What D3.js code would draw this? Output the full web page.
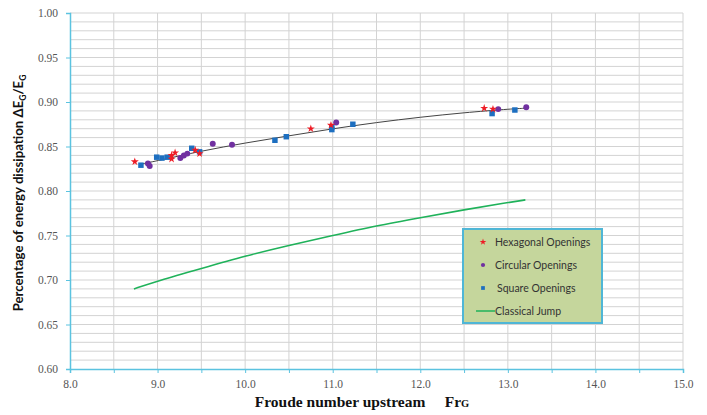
<!DOCTYPE html>
<html>
<head>
<meta charset="utf-8">
<script src="https://cdn.jsdelivr.net/npm/d3@7"></script>
<style>
  body { margin: 0; background: #fff; }
  .grid line { stroke: #d3d3d3; stroke-width: 1; }
  .tick text { font-family: "Liberation Serif", serif; font-size: 11.5px; fill: #555; }
</style>
</head>
<body>
<svg id="chart" width="707" height="415"></svg>
<script>
// Data
var hexX = [8.74, 9.16, 9.16, 9.20, 9.43, 9.48, 10.75, 10.98, 12.73, 12.83];
var hexY = [0.833, 0.840, 0.836, 0.843, 0.846, 0.842, 0.870, 0.874, 0.893, 0.892];

var circX = [8.89, 8.91, 9.26, 9.30, 9.34, 9.63, 9.85, 11.04, 12.89, 13.21];
var circY = [0.831, 0.828, 0.837, 0.840, 0.842, 0.853, 0.852, 0.877, 0.892, 0.894];

var sqX = [8.81, 8.99, 9.05, 9.11, 9.39, 9.48, 10.34, 10.47, 10.99, 10.99, 11.23, 12.82, 13.08];
var sqY = [0.829, 0.838, 0.837, 0.838, 0.848, 0.844, 0.857, 0.861, 0.869, 0.872, 0.875, 0.887, 0.891];

// black trend line through the points
var trendX = [8.8, 9.0, 9.5, 10.0, 10.5, 11.0, 11.5, 12.0, 12.5, 13.0, 13.2];
var trendY = [0.830, 0.834, 0.845, 0.854, 0.862, 0.870, 0.877, 0.883, 0.888, 0.892, 0.893];

// green classical jump curve
var jumpX = [8.73, 9.0, 9.5, 10.0, 10.5, 11.0, 11.5, 12.0, 12.5, 13.0, 13.2];
var jumpY = [0.690, 0.699, 0.713, 0.727, 0.739, 0.750, 0.761, 0.770, 0.779, 0.787, 0.790];

var legendLabels = ["Hexagonal Openings", "Circular Openings", "Square Openings", "Classical Jump"];

var svg = d3.select("#chart");
var padL = 70, padR = 683, padT = 13, padB = 369;

var x = d3.scaleLinear().domain([8, 15]).range([padL, padR]);
var y = d3.scaleLinear().domain([0.6, 1.0]).range([padB, padT]);

// gridlines
var grid = svg.append("g").attr("class", "grid");
grid.selectAll(".hy")
    .data(d3.range(61, 101).map(function(d){ return d / 100; }))
    .enter().append("line")
    .attr("x1", padL).attr("x2", padR)
    .attr("y1", function(d){ return y(d); })
    .attr("y2", function(d){ return y(d); });
grid.selectAll(".vx")
    .data(d3.range(17, 31).map(function(d){ return d / 2; }))
    .enter().append("line")
    .attr("y1", padT).attr("y2", padB)
    .attr("x1", function(d){ return x(d); })
    .attr("x2", function(d){ return x(d); });

// axes
var yAxis = d3.axisLeft(y)
    .tickValues(d3.range(60, 101, 5).map(function(d){ return d / 100; }))
    .tickFormat(d3.format(".2f"))
    .tickSize(4).tickPadding(8);
var gy = svg.append("g").attr("transform", "translate(" + padL + ",0)").call(yAxis);

var xAxis = d3.axisBottom(x)
    .tickValues(d3.range(16, 31).map(function(d){ return d / 2; }))
    .tickFormat(function(d){ return d % 1 === 0 ? d3.format(".1f")(d) : ""; })
    .tickSize(4).tickPadding(7);
var gx = svg.append("g").attr("transform", "translate(0," + padB + ")").call(xAxis);

[gx, gy].forEach(function(g){
    g.select(".domain").attr("stroke", "#5bc3e0").attr("stroke-width", 1.5);
    g.selectAll(".tick line").attr("stroke", "#5bc3e0");
});

// lines
var line = d3.line()
    .x(function(d){ return x(d[0]); })
    .y(function(d){ return y(d[1]); })
    .curve(d3.curveBasis);

svg.append("path")
    .datum(d3.zip(jumpX, jumpY))
    .attr("d", line)
    .attr("fill", "none")
    .attr("stroke", "#1fb25a")
    .attr("stroke-width", 1.6);

svg.append("path")
    .datum(d3.zip(trendX, trendY))
    .attr("d", line)
    .attr("fill", "none")
    .attr("stroke", "#444")
    .attr("stroke-width", 1);

// markers
var star = d3.symbol().type(d3.symbolStar).size(20);
var circ = d3.symbol().type(d3.symbolCircle).size(28);
var sq = d3.symbol().type(d3.symbolSquare).size(30);

svg.append("g").selectAll("path")
    .data(d3.zip(sqX, sqY))
    .enter().append("path")
    .attr("d", sq)
    .attr("fill", "#1d6fc0")
    .attr("transform", function(d){ return "translate(" + x(d[0]) + "," + y(d[1]) + ")"; });

svg.append("g").selectAll("path")
    .data(d3.zip(circX, circY))
    .enter().append("path")
    .attr("d", circ)
    .attr("fill", "#7030a0")
    .attr("transform", function(d){ return "translate(" + x(d[0]) + "," + y(d[1]) + ")"; });

svg.append("g").selectAll("path")
    .data(d3.zip(hexX, hexY))
    .enter().append("path")
    .attr("d", star)
    .attr("fill", "#ee1c25")
    .attr("transform", function(d){ return "translate(" + x(d[0]) + "," + y(d[1]) + ")"; });

// legend
var lg = svg.append("g").attr("transform", "translate(463,229)");
lg.append("rect")
    .attr("width", 139).attr("height", 94)
    .attr("fill", "#c5d69c")
    .attr("stroke", "#4fb6d6")
    .attr("stroke-width", 2);

var legSyms = [
    {s: d3.symbol().type(d3.symbolStar).size(14)(), c: "#ee1c25"},
    {s: d3.symbol().type(d3.symbolCircle).size(14)(), c: "#7030a0"},
    {s: d3.symbol().type(d3.symbolSquare).size(14)(), c: "#1d6fc0"}
];
legendLabels.forEach(function(lab, i){
    var yy = 13 + i * 23;
    if (i < 3) {
        lg.append("path")
            .attr("d", legSyms[i].s)
            .attr("fill", legSyms[i].c)
            .attr("transform", "translate(20," + yy + ")");
    } else {
        lg.append("line")
            .attr("x1", 13).attr("x2", 32)
            .attr("y1", yy).attr("y2", yy)
            .attr("stroke", "#1fb25a").attr("stroke-width", 1.5);
    }
    lg.append("text")
        .attr("x", i === 2 ? 34 : 32)
        .attr("y", yy + 3.5)
        .attr("font-family", "Lato, 'Open Sans', sans-serif")
        .attr("font-size", 10.5)
        .attr("fill", "#333")
        .text(lab);
});

// axis titles
var yt = svg.append("text")
    .attr("transform", "translate(23,193) rotate(-90)")
    .attr("text-anchor", "middle")
    .attr("font-family", "Lato, 'Open Sans', sans-serif")
    .attr("font-weight", "bold")
    .attr("font-size", 13.2)
    .attr("fill", "#111");
yt.append("tspan").text("Percentage of energy dissipation  \u0394E");
yt.append("tspan").attr("font-size", 8.5).attr("dy", 3).text("G");
yt.append("tspan").attr("dy", -3).text("/E");
yt.append("tspan").attr("font-size", 8.5).attr("dy", 3).text("G");

var xt = svg.append("text")
    .attr("x", 362).attr("y", 407)
    .attr("text-anchor", "middle")
    .attr("font-family", "'Liberation Serif', serif")
    .attr("font-weight", "bold")
    .attr("font-size", 15.5)
    .attr("fill", "#111");
xt.append("tspan").text("Froude number upstream \u00a0\u00a0\u00a0\u00a0Fr");
xt.append("tspan").attr("font-size", 10.5).text("G");
</script>
</body>
</html>
